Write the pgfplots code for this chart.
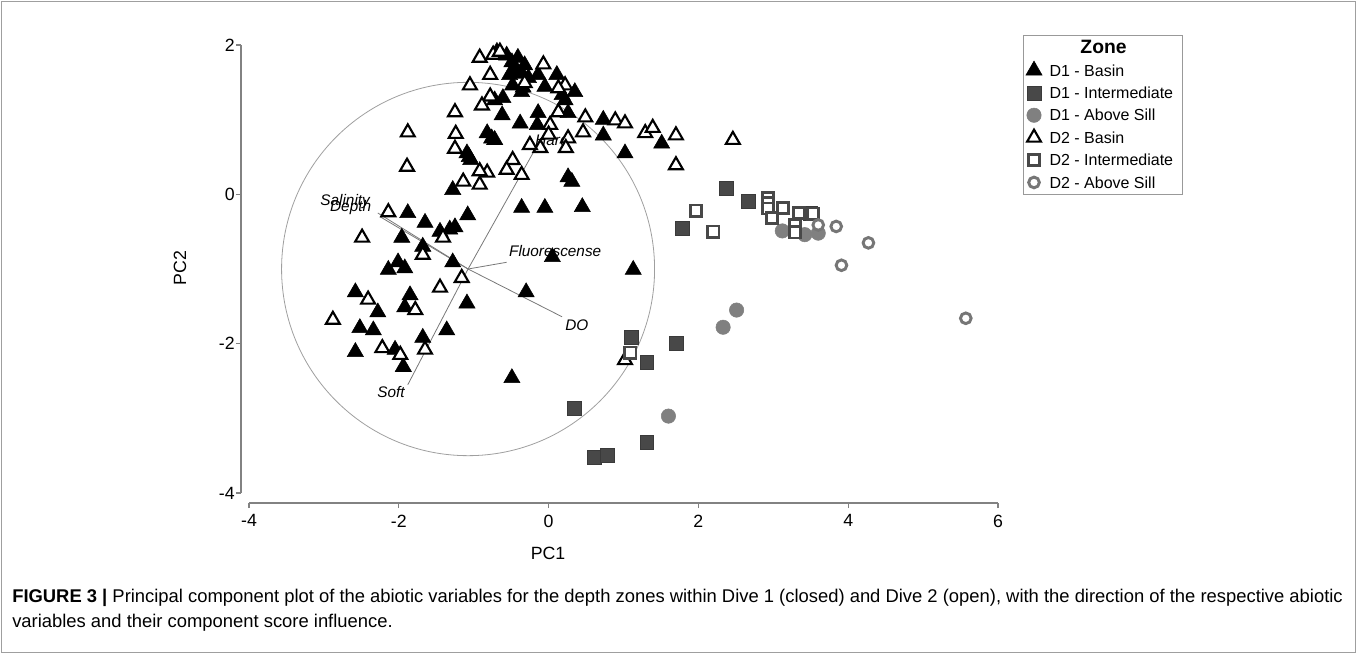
\documentclass[border=0pt]{standalone}
\usepackage{fontspec}
\setmainfont{Liberation Sans}
\usepackage{pgfplots}
\pgfplotsset{compat=1.18}
\usepackage{pgfplotstable}

\definecolor{axisgray}{RGB}{130,130,130}
\definecolor{intgray}{RGB}{72,72,72}
\definecolor{sillgray}{RGB}{128,128,128}
\definecolor{opensill}{RGB}{118,118,118}
\definecolor{vecgray}{RGB}{120,120,120}

% D1 - Basin
\pgfplotstableread{
x y
-0.69 1.91
-0.56 1.86
-0.49 1.77
-0.45 1.70
-0.42 1.62
-0.52 1.60
-0.36 1.62
-0.14 1.60
0.11 1.60
-0.05 1.44
-0.36 1.37
0.18 1.33
0.35 1.37
0.22 1.26
-0.61 1.29
-0.72 1.26
-0.62 1.06
-0.38 0.95
-0.14 1.09
-0.15 0.93
0.26 1.09
0.73 1.00
0.73 0.79
-0.82 0.82
-0.76 0.75
-0.72 0.73
1.02 0.55
-1.09 0.55
-1.06 0.50
-1.04 0.46
1.51 0.68
-0.34 1.43
-0.41 1.83
-0.32 1.73
-0.27 1.56
-0.48 1.46
-1.28 0.06
0.26 0.23
0.31 0.17
-0.36 -0.18
-0.05 -0.18
0.45 -0.17
-1.88 -0.25
-1.65 -0.38
-1.45 -0.50
-1.25 -0.44
-1.32 -0.47
-1.08 -0.28
-1.96 -0.58
-1.68 -0.70
-1.28 -0.91
-2.01 -0.91
-2.14 -1.01
-1.92 -0.99
0.05 -0.84
-0.30 -1.31
-2.58 -1.31
-1.85 -1.35
-1.09 -1.46
-2.28 -1.58
-1.92 -1.51
-2.52 -1.79
-2.34 -1.82
-1.36 -1.82
-2.58 -2.11
-1.68 -1.92
-2.05 -2.08
-1.94 -2.31
-0.49 -2.46
1.13 -1.01
}\dibasin

% D1 - Intermediate
\pgfplotstableread{
x y
2.37 0.08
2.67 -0.09
1.79 -0.45
1.70 -1.99
1.31 -2.25
3.49 -0.25
1.10 -1.91
0.34 -2.86
0.61 -3.52
0.78 -3.49
1.31 -3.32
}\diint

% D1 - Above Sill
\pgfplotstableread{
x y
3.12 -0.49
3.42 -0.54
3.60 -0.52
2.51 -1.55
2.33 -1.78
1.60 -2.97
}\disill

% D2 - Basin
\pgfplotstableread{
x y
-0.92 1.83
-0.74 1.87
-0.65 1.91
-0.07 1.74
-0.78 1.60
-1.05 1.46
-0.32 1.49
0.22 1.46
-0.78 1.31
-0.89 1.19
-1.25 1.10
-1.24 0.81
-1.25 0.61
0.13 1.10
0.49 1.03
0.89 0.99
1.02 0.95
0.46 0.83
0.02 0.93
-0.11 0.62
-0.25 0.66
0.26 0.75
0.23 0.62
1.29 0.82
1.39 0.89
1.70 0.79
2.46 0.73
1.70 0.39
-1.88 0.83
-1.89 0.37
-0.48 0.46
-0.36 0.26
-0.56 0.33
-0.82 0.29
-0.92 0.13
-1.14 0.17
-0.92 0.31
0.00 0.80
0.13 1.42
-2.14 -0.24
-2.49 -0.58
-1.41 -0.58
-1.68 -0.81
-1.16 -1.12
-1.45 -1.25
-2.41 -1.41
-2.88 -1.68
-1.78 -1.55
-2.22 -2.06
-1.98 -2.15
-1.65 -2.08
1.02 -2.22
}\diibasin

% D2 - Intermediate
\pgfplotstableread{
x y
1.97 -0.22
2.20 -0.50
2.93 -0.05
2.93 -0.12
2.93 -0.19
2.98 -0.32
3.13 -0.18
3.34 -0.25
3.53 -0.26
3.29 -0.41
3.29 -0.51
1.09 -2.12
}\diiint

% D2 - Above Sill
\pgfplotstableread{
x y
3.84 -0.43
4.27 -0.65
3.91 -0.95
5.57 -1.66
3.60 -0.41
}\diisill

\begin{document}
\begin{tikzpicture}
\useasboundingbox (-186.75pt,-120.75pt) rectangle (831pt,369.75pt);
\draw[gray!75, line width=1pt] (-185.6pt,-119.6pt) rectangle (829.9pt,368.6pt);

\pgfplotsset{
  mylegend/.style={legend image code/.code={%
      \path (-7.5pt,0pt) (11.25pt,0pt);
      \draw[##1,#1] plot coordinates {(0pt,0pt)};}},
}

\begin{axis}[
  at={(0pt,0pt)}, anchor=south west,
  scale only axis, width=561.75pt, height=336pt,
  xmin=-4, xmax=6, ymin=-4, ymax=2,
  clip=false,
  separate axis lines,
  axis x line*=bottom, axis y line*=left,
  axis x line shift=7.5pt, axis y line shift=6pt,
  axis line style={draw=axisgray, line width=0.9pt, -},
  xtick={-4,-2,0,2,4,6}, ytick={-4,-2,0,2},
  tick align=outside, major tick length=3.75pt,
  major tick style={draw=axisgray, line width=0.8pt},
  /pgf/number format/assume math mode=true,
  tick label style={font=\fontsize{13.3}{14}\selectfont},
  xticklabel style={yshift=-1.5pt},
  yticklabel style={xshift=2.5pt},
  label style={font=\fontsize{13.3}{14}\selectfont},
  xlabel={PC1}, ylabel={PC2},
  xlabel style={at={(axis description cs:0.3992,-0.1339)}, anchor=center},
  ylabel style={at={(axis description cs:-0.0921,0.5022)}, anchor=center, rotate=0},
  legend style={at={(axis description cs:1.0334,1.0223)}, anchor=north west,
    draw=gray!80, line width=0.75pt, fill=white,
    inner xsep=0pt, inner ysep=1pt, row sep=0pt, column sep=0pt,
    nodes={inner sep=0pt, text height=12.7pt, text depth=4.1pt},
    font=\fontsize{12}{14}\selectfont},
  legend cell align=left,
]
\addlegendimage{empty legend}
\addlegendentry{\hspace*{-18.75pt}\makebox[118.5pt][c]{\fontsize{14.5}{16}\selectfont\bfseries Zone}}

% correlation circle and vectors
\draw[gray!75, line width=0.6pt] (axis cs:-1.075,-1.0) ellipse [x radius=2.49, y radius=2.50];
\addplot[vecgray, line width=0.6pt, forget plot] coordinates {(-1.075,-1.0) (-2.28,-0.25)};
\addplot[vecgray, line width=0.6pt, forget plot] coordinates {(-1.075,-1.0) (-2.25,-0.30)};
\addplot[vecgray, line width=0.6pt, forget plot] coordinates {(-1.075,-1.0) (0.18,-1.64)};
\addplot[vecgray, line width=0.6pt, forget plot] coordinates {(-1.075,-1.0) (-0.56,-0.91)};
\addplot[vecgray, line width=0.6pt, forget plot] coordinates {(-1.075,-1.0) (-1.88,-2.55)};
\addplot[vecgray, line width=0.6pt, forget plot] coordinates {(-1.075,-1.0) (-0.11,0.73)};

\begin{scope}[every node/.style={inner sep=0pt, anchor=base west, font=\itshape\fontsize{11.5}{12}\selectfont}]
\node at (axis cs:-3.05,-0.15) {Salinity};
\node at (axis cs:-2.92,-0.224) {Depth};
\node at (axis cs:0.22,-1.82) {DO};
\node at (axis cs:-2.29,-2.72) {Soft};
\node at (axis cs:-0.53,-0.83) {Fluorescense};
\node at (axis cs:-0.18,0.65) {Hard};
\end{scope}

\addplot[only marks, mark=triangle*, mark size=7pt,
  mark options={fill=black, draw=black, line width=0.4pt},
  mylegend={mark size=7pt, mark options={fill=black, draw=black, line width=0.4pt}}]
  table {\dibasin};
\addlegendentry{D1 - Basin}

\addplot[only marks, mark=square*, mark size=5.2pt,
  mark options={fill=intgray, draw=intgray!80!black, line width=0.4pt},
  mylegend={mark size=5.2pt, mark options={fill=intgray, draw=intgray!80!black, line width=0.4pt}}]
  table {\diint};
\addlegendentry{D1 - Intermediate}

\addplot[only marks, mark=*, mark size=5.4pt,
  mark options={fill=sillgray, draw=sillgray, line width=0.4pt},
  mylegend={mark size=5.4pt, mark options={fill=sillgray, draw=sillgray, line width=0.4pt}}]
  table {\disill};
\addlegendentry{D1 - Above Sill}

\addplot[only marks, mark=triangle*, mark size=6pt,
  mark options={fill=white, draw=black, line width=1.6pt},
  mylegend={mark size=6pt, mark options={fill=white, draw=black, line width=1.6pt}}]
  table {\diibasin};
\addlegendentry{D2 - Basin}

\addplot[only marks, mark=square*, mark size=4.2pt,
  mark options={fill=white, draw=intgray, line width=2pt},
  mylegend={mark size=4.2pt, mark options={fill=white, draw=intgray, line width=2pt}}]
  table {\diiint};
\addlegendentry{D2 - Intermediate}

\addplot[only marks, mark=*, mark size=4pt,
  mark options={fill=white, draw=opensill, line width=2.2pt},
  mylegend={mark size=4pt, mark options={fill=white, draw=opensill, line width=2.2pt}}]
  table {\diisill};
\addlegendentry{D2 - Above Sill}
\end{axis}

\node[anchor=base west, inner sep=0pt, font=\fontsize{13.8}{16}\selectfont] at (-177.75pt,-81.75pt)
  {\textbf{FIGURE 3 |} Principal component plot of the abiotic variables for the depth zones within Dive 1 (closed) and Dive 2 (open), with the direction of the respective abiotic};
\node[anchor=base west, inner sep=0pt, font=\fontsize{13.8}{16}\selectfont] at (-177.75pt,-100.5pt)
  {variables and their component score influence.};
\end{tikzpicture}
\end{document}
